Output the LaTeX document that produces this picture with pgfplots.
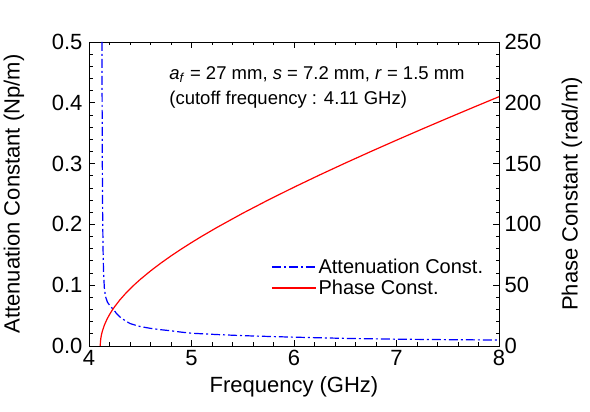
\documentclass[border=0pt]{standalone}
\usepackage{fontspec}
\setmainfont{Liberation Sans}
\usepackage{pgfplots}
\pgfplotsset{compat=1.18}

\pgfplotsset{
  base/.style={
    scale only axis, width=410pt, height=304pt,
    xmin=4, xmax=8,
    tick align=inside,
    major tick length=6pt, minor tick length=3.5pt,
    every tick/.style={black, line width=0.8pt},
    axis line style={line width=0.9pt},
    tick label style={font=\fontsize{22}{26}\selectfont},
    label style={font=\fontsize{22}{26}\selectfont},
    /pgf/number format/assume math mode=true,
  },
}

\begin{document}
\begin{tikzpicture}
\begin{axis}[base, name=main,
  ymin=0, ymax=0.5,
  xtick={4,5,6,7,8}, minor x tick num=4,
  ytick={0,0.1,0.2,0.3,0.4,0.5}, minor y tick num=4,
  ytick pos=left,
  yticklabel style={xshift=-3pt, /pgf/number format/.cd, fixed, fixed zerofill, precision=1},
  xticklabel style={yshift=-1pt},
  xlabel={Frequency (GHz)},
  ylabel={Attenuation Constant (Np/m)},
  xlabel style={at={(axis description cs:0.5,-0.135)}, anchor=center},
  ylabel style={at={(axis description cs:-0.183,0.5)}, anchor=center, rotate=0},
  legend style={draw=none, fill=none, at={(0.437,0.30)}, anchor=north west,
    font=\fontsize{20}{24}\selectfont, row sep=1pt},
  legend cell align=left,
  legend image code/.code={\draw[#1] (0pt,0pt) -- (44pt,0pt);},
]
\addplot[blue, line width=1.2pt, dash pattern=on 9pt off 3pt on 2pt off 3pt] coordinates {
(4.126,0.5) (4.128,0.4) (4.130,0.3) (4.133,0.22) (4.137,0.16) (4.142,0.12)
(4.150,0.095) (4.160,0.082) (4.180,0.072) (4.210,0.065) (4.240,0.060)
(4.270,0.053) (4.300,0.048) (4.350,0.042) (4.400,0.037) (4.450,0.0343)
(4.500,0.032) (4.600,0.029) (4.700,0.0268) (4.800,0.025) (4.900,0.0228)
(5.000,0.021) (5.250,0.0188) (5.500,0.017) (5.750,0.0157) (6.000,0.0145)
(6.500,0.0125) (7.000,0.0112) (7.500,0.0104) (8.000,0.0098)
};
\addlegendentry{Attenuation Const.}
\addlegendimage{red, line width=1.2pt}
\addlegendentry{Phase Const.}
\node[anchor=west, font=\fontsize{18.5}{22}\selectfont] at (axis cs:4.75,0.446)
  {\textit{a}\textsubscript{\textit{f}} = 27 mm, \textit{s} = 7.2 mm, \textit{r} = 1.5 mm};
\node[anchor=west, font=\fontsize{18.5}{22}\selectfont] at (axis cs:4.75,0.405)
  {(cutoff frequency : 4.11 GHz)};
\end{axis}
\begin{axis}[base,
  ymin=0, ymax=250,
  axis x line=none,
  axis y line*=right,
  ytick={0,50,100,150,200,250}, minor y tick num=4,
  yticklabel style={xshift=2pt},
  ylabel={Phase Constant (rad/m)},
  ylabel style={at={(axis description cs:1.178,0.5)}, anchor=center, rotate=0},
]
\addplot[red, line width=1.2pt] coordinates {
(4.110,0) (4.111,2.7) (4.115,6.06) (4.120,8.57) (4.130,12.13) (4.150,17.17)
(4.175,21.92) (4.200,25.83) (4.225,29.25) (4.250,32.32) (4.300,37.76)
(4.350,42.56) (4.400,46.93) (4.450,50.96) (4.500,54.74) (4.600,61.71)
(4.700,68.10) (4.800,74.06) (4.900,79.69) (5.000,85.05) (5.100,90.20)
(5.250,97.57) (5.500,109.17) (5.750,120.12) (6.000,130.57) (6.250,140.65)
(6.500,150.42) (6.750,159.94) (7.000,169.26) (7.250,178.40) (7.500,187.39)
(7.750,196.26) (8.000,205.01)
};
\end{axis}
\pgfresetboundingbox
\path[use as bounding box] ([shift={(-89pt,-66pt)}]main.south west)
  rectangle ([shift={(91pt,42pt)}]main.north east);
\end{tikzpicture}
\end{document}
